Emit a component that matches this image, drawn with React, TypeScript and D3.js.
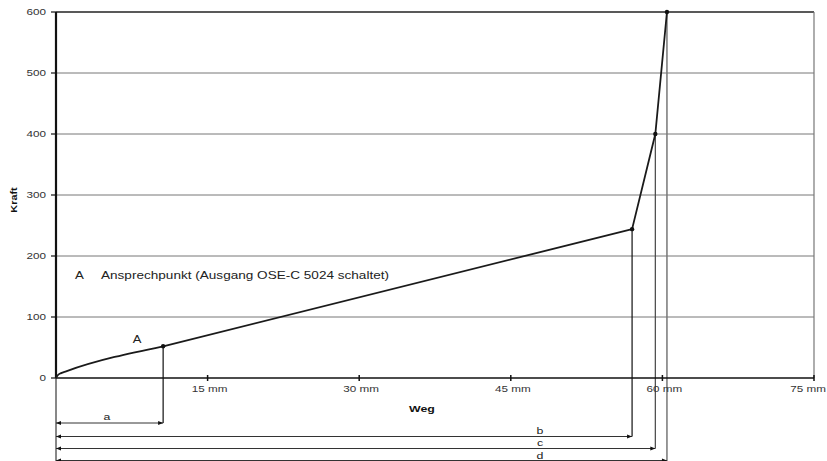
import React from "react";
import * as d3 from "d3";

const W = 827;
const H = 461;

// Curve data: Weg (mm) vs Kraft
const weg = [0, 0.15, 0.5, 1.0, 10.6, 57.0, 59.3, 60.45];
const kraft = [0, 4, 8, 11, 52, 244, 400, 600];
const markerIdx = [4, 5, 6, 7];

const yTicks = [0, 100, 200, 300, 400, 500, 600];
const xTicks = [15, 30, 45, 60, 75];
const xTickLabels = ["15 mm", "30 mm", "45 mm", "60 mm", "75 mm"];

// Dimension arrows
const dimLabels = ["a", "b", "c", "d"];
const dimEnds = [10.6, 57.0, 59.3, 60.45];

const legendKey = "A";
const legendText = "Ansprechpunkt (Ausgang OSE-C 5024 schaltet)";

const SX = 1.3;

function T(props: {
  x: number;
  y: number;
  size: number;
  anchor?: "start" | "middle" | "end";
  bold?: boolean;
  fill?: string;
  sx?: number;
  children: React.ReactNode;
}) {
  const { x, y, size, anchor = "start", bold, fill = "#222", sx = SX, children } = props;
  return (
    <text
      transform={`translate(${x},${y}) scale(${sx},1)`}
      fontSize={size}
      textAnchor={anchor}
      fontWeight={bold ? "bold" : "normal"}
      fill={fill}
    >
      {children}
    </text>
  );
}

export default function App() {
  const x = d3.scaleLinear().domain([0, 75]).range([56, 814]);
  const y = d3.scaleLinear().domain([0, 600]).range([378, 12]);
  const pts: [number, number][] = weg.map((w, i) => [w, kraft[i]]);
  const lineCurve = d3
    .line<[number, number]>()
    .x((d) => x(d[0]))
    .y((d) => y(d[1]))
    .curve(d3.curveMonotoneX);
  const lineLin = d3
    .line<[number, number]>()
    .x((d) => x(d[0]))
    .y((d) => y(d[1]));

  const font = "'Liberation Sans', Arial, sans-serif";
  const dimY = [423, 436.5, 448.5, 460.5];
  const dimLabelY = [420, 433.5, 446, 459];
  const dimLabelX = [107, 540, 540, 540];

  const arrow = (x0: number, x1: number, yy: number, key: string) => (
    <g key={key}>
      <line x1={x0} x2={x1} y1={yy} y2={yy} stroke="#333" strokeWidth={1} />
      <path d={`M${x0},${yy} l5,-2 l0,4 z`} fill="#111" />
      <path d={`M${x1},${yy} l-5,-2 l0,4 z`} fill="#111" />
    </g>
  );

  return (
    <svg
      width={W}
      height={H}
      style={{ position: "absolute", left: 0, top: 0, background: "#fff" }}
      fontFamily={font}
    >
      <rect x={0} y={0} width={W} height={H} fill="#fff" />
      {/* horizontal grid */}
      {yTicks.slice(1).map((t) => (
        <line
          key={"g" + t}
          x1={x(0)}
          x2={x(75)}
          y1={y(t)}
          y2={y(t)}
          stroke={t === 600 ? "#222" : "#777"}
          strokeWidth={t === 600 ? 1.5 : 1}
        />
      ))}
      {/* right border */}
      <line x1={x(75)} x2={x(75)} y1={y(600)} y2={y(0)} stroke="#777" strokeWidth={1.2} />

      {/* vertical drop lines */}
      <line x1={x(dimEnds[0])} x2={x(dimEnds[0])} y1={y(kraft[4])} y2={dimY[0]} stroke="#111" strokeWidth={1.2} />
      <line x1={x(dimEnds[1])} x2={x(dimEnds[1])} y1={y(kraft[5])} y2={dimY[1]} stroke="#111" strokeWidth={1.2} />
      <line x1={x(dimEnds[2])} x2={x(dimEnds[2])} y1={y(kraft[6])} y2={dimY[2]} stroke="#444" strokeWidth={1.2} />
      <line x1={x(dimEnds[3])} x2={x(dimEnds[3])} y1={y(600)} y2={H} stroke="#777" strokeWidth={1.5} />

      {/* left extension line */}
      <line x1={x(0)} x2={x(0)} y1={y(0)} y2={H} stroke="#111" strokeWidth={1} />

      {/* dimension arrows */}
      {dimEnds.map((e, i) => arrow(x(0), x(e), dimY[i], "d" + i))}
      {dimLabels.map((l, i) => (
        <T key={"dl" + i} x={dimLabelX[i]} y={dimLabelY[i]} size={9.5} anchor="middle">
          {l}
        </T>
      ))}

      {/* x axis */}
      <line x1={x(0)} x2={x(75)} y1={y(0)} y2={y(0)} stroke="#111" strokeWidth={1.5} />
      {xTicks.map((t, i) => {
        const last = i === xTicks.length - 1;
        return (
          <g key={"xt" + t}>
            <line x1={x(t)} x2={x(t)} y1={y(0) - 3} y2={y(0) + 3} stroke="#111" strokeWidth={1.5} />
            <T
              x={last ? W - 1 : x(t) + 2}
              y={y(0) + 14}
              size={9}
              anchor={last ? "end" : "middle"}
              fill="#333"
            >
              {xTickLabels[i]}
            </T>
          </g>
        );
      })}

      {/* y axis */}
      <line x1={x(0)} x2={x(0)} y1={y(600)} y2={y(0)} stroke="#111" strokeWidth={2.2} />
      {yTicks.map((t) => (
        <g key={"yt" + t}>
          <line x1={x(0) - 5} x2={x(0)} y1={y(t)} y2={y(t)} stroke="#111" strokeWidth={1.2} />
          <T x={x(0) - 10} y={y(t) + 3.3} size={9} anchor="end" fill="#333">
            {t}
          </T>
        </g>
      ))}

      {/* axis titles */}
      <T x={422} y={412} size={9.5} bold anchor="middle" fill="#111">
        Weg
      </T>
      <text
        transform={`translate(17,200) rotate(-90) scale(1.15,1)`}
        fontSize={9.5}
        fontWeight="bold"
        textAnchor="middle"
        fill="#111"
      >
        Kraft
      </text>

      {/* data curve */}
      <path d={lineCurve(pts.slice(0, 5)) || ""} fill="none" stroke="#1a1a1a" strokeWidth={1.8} />
      <path d={lineLin(pts.slice(4)) || ""} fill="none" stroke="#1a1a1a" strokeWidth={1.8} strokeLinejoin="round" />
      {markerIdx.map((i) => (
        <circle key={"m" + i} cx={x(weg[i])} cy={y(kraft[i])} r={2.2} fill="#111" />
      ))}

      {/* annotations */}
      <T x={137} y={342.5} size={10} anchor="middle">
        {legendKey}
      </T>
      <T x={75} y={279} size={10.2}>
        {legendKey}
      </T>
      <T x={101} y={279} size={10.2} sx={1.33}>
        {legendText}
      </T>
    </svg>
  );
}
